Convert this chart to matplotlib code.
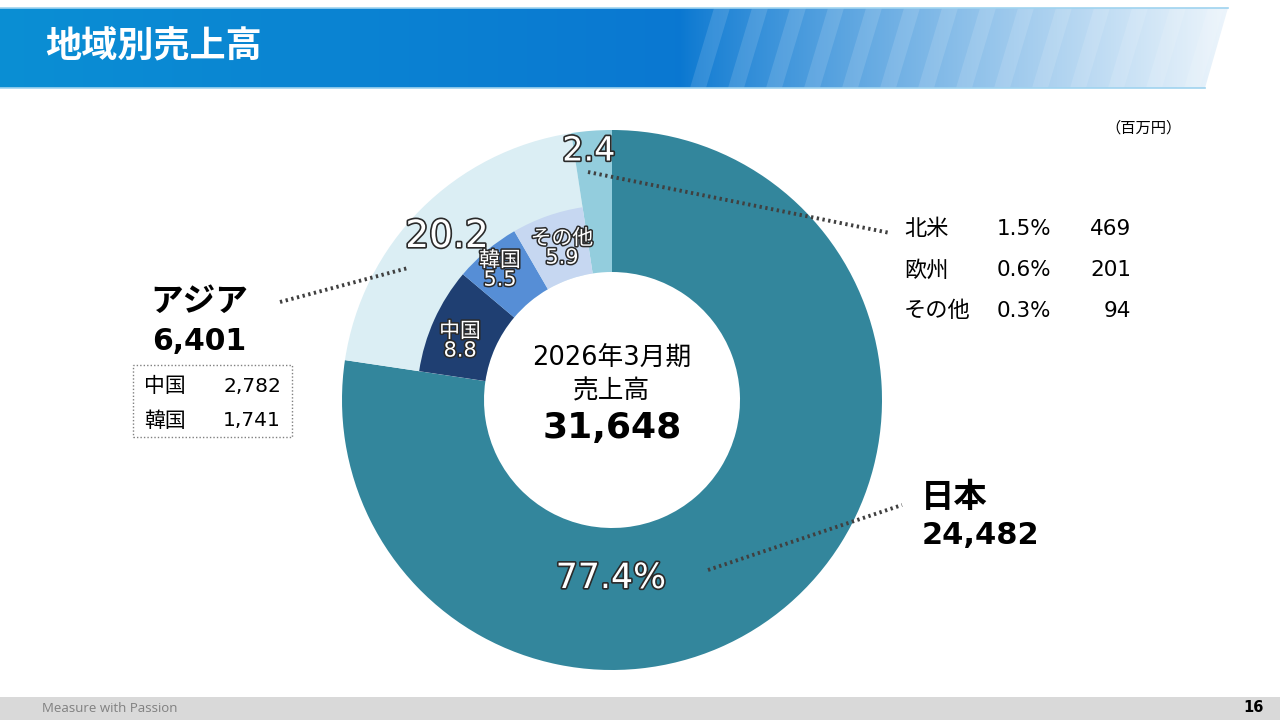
import numpy as np
import matplotlib.pyplot as plt
import matplotlib.patheffects as pe
from matplotlib.patches import Polygon, Rectangle

plt.rcParams['font.family'] = ['DejaVu Sans', 'Noto Sans CJK JP']

# data (百万円)
total = 31648
regions = ['日本', 'アジア', '北米・欧州・その他']
sales = [24482, 6401, 764]
shares = [77.4, 20.2, 2.4]
asia_names = ['中国', '韓国', 'その他']
asia_sales = [2782, 1741, 1878]
asia_shares = [8.8, 5.5, 5.9]
other_names = ['北米', '欧州', 'その他']
other_shares = [1.5, 0.6, 0.3]
other_sales = [469, 201, 94]

outer_colors = ['#33869c', '#dbeef4', '#93cddd']
asia_colors = ['#1f3f72', '#568ed6', '#c6d7f1']

W, H = 1280, 720
fig = plt.figure(figsize=(12.8, 7.2), dpi=100)
ax = fig.add_axes([0, 0, 1, 1])


def px(x, y):
    # pixel coords (top-left origin) -> axes data coords
    return x, H - y


# header band
grad = np.linspace(0, 1, 680)
r0 = np.array([0.04, 0.56, 0.83])
r1 = np.array([0.04, 0.47, 0.82])
left = r0[None, :] * (1 - grad[:, None]) + r1[None, :] * grad[:, None]
fade = np.linspace(0, 1, 600) ** 0.85
right = r1[None, :] * (1 - fade[:, None]) + np.array([1, 1, 1])[None, :] * fade[:, None]
band = np.vstack([left, right])[None, :, :]
ax.imshow(band, extent=(0, W, H - 88, H - 8), aspect='auto', zorder=0)
for i in range(14):
    x0 = 690 + i * 38
    ax.add_patch(Polygon([px(x0, 88), px(x0 + 16, 88), px(x0 + 40, 8), px(x0 + 24, 8)],
                         closed=True, facecolor='white', alpha=0.12, edgecolor='none', zorder=1))
ax.add_patch(Polygon([px(1205, 88), px(1290, 88), px(1290, 8), px(1228, 8)],
                     closed=True, facecolor='white', edgecolor='none', zorder=1))
ax.plot([0, 1228], [H - 8, H - 8], color='#9fd3ef', lw=1.2, zorder=2)
ax.plot([0, 1205], [H - 88, H - 88], color='#9fd3ef', lw=1.2, zorder=2)
ax.text(*px(45, 47), '地域別売上高', color='white', fontsize=26, fontweight='bold',
        family=['Noto Sans CJK JP'], va='center', ha='left', zorder=3)

# footer
ax.add_patch(Rectangle(px(0, 720), W, 23, facecolor='#d9d9d9', edgecolor='none', zorder=0))
ax.text(*px(42, 709), 'Measure with Passion', color='#808080', fontsize=9.5,
        family=['Open Sans'], va='center', ha='left')
ax.text(*px(1264, 708), '16', color='black', fontsize=10.5, fontweight='bold', va='center', ha='right')

# donut
cx, cy = px(612, 400)
ax.pie(sales, center=(cx, cy), radius=270, startangle=90, counterclock=False,
       colors=outer_colors, wedgeprops=dict(width=142, edgecolor='none'))
inner_vals = [sales[0]] + asia_sales + [sales[2]]
inner_cols = ['none'] + asia_colors + ['none']
ax.pie(inner_vals, center=(cx, cy), radius=195, startangle=90, counterclock=False,
       colors=inner_cols, wedgeprops=dict(width=67, edgecolor='none'))

ax.set_xlim(0, W)
ax.set_ylim(0, H)
ax.set_aspect('equal')
ax.axis('off')

outline = [pe.withStroke(linewidth=2.4, foreground='#2a2a2a')]
ax.text(*px(611, 578), f'{shares[0]}%', fontsize=25, color='white', ha='center', va='center',
        path_effects=outline)
ax.text(*px(447, 237), f'{shares[1]}', fontsize=27, color='white', ha='center', va='center',
        path_effects=outline)
ax.text(*px(589, 151), f'{shares[2]}', fontsize=24, color='white', ha='center', va='center',
        path_effects=outline)
asia_pos = [(460, 341), (500, 270), (562, 248)]
for name, s, (x, y) in zip(asia_names, asia_shares, asia_pos):
    ax.text(*px(x, y), f'{name}\n{s}', fontsize=15, color='white', ha='center', va='center',
            linespacing=0.95, path_effects=[pe.withStroke(linewidth=2.2, foreground='#2a2a2a')])

# center text
ax.text(*px(612, 358), '2026年3月期', fontsize=18.5, ha='center', va='center')
ax.text(*px(612, 391), '売上高', fontsize=18.5, ha='center', va='center')
ax.text(*px(612, 428), f'{total:,}', fontsize=26, fontweight='bold', ha='center', va='center')

# leader lines
dot = dict(color='#404040', lw=2.8, linestyle=(0, (0.6, 0.9)), solid_capstyle='butt')
ax.plot(*zip(px(588, 172), px(890, 233)), **dot)
ax.plot(*zip(px(280, 302), px(408, 268)), **dot)
ax.plot(*zip(px(708, 570), px(902, 505)), **dot)

# Asia label and breakdown
ax.text(*px(150, 301), regions[1], fontsize=23.5, fontweight='bold', ha='left', va='center')
ax.text(*px(152, 342), f'{sales[1]:,}', fontsize=21.5, fontweight='bold', ha='left', va='center')
ax.add_patch(Rectangle(px(133, 437), 159, 72, facecolor='none', edgecolor='#808080',
                       lw=1, linestyle=(0, (1, 1.5))))
for i, (name, v) in enumerate(zip(asia_names[:2], asia_sales[:2])):
    y = 386 + i * 35
    ax.text(*px(144, y), name, fontsize=15, ha='left', va='center')
    ax.text(*px(281, y), f'{v:,}', fontsize=14.5, ha='right', va='center')

# Japan label
ax.text(*px(921, 497), regions[0], fontsize=24, fontweight='bold', ha='left', va='center')
ax.text(*px(922, 536), f'{sales[0]:,}', fontsize=22, fontweight='bold', ha='left', va='center')

# other regions table
ax.text(*px(1182, 128), '（百万円）', fontsize=11, ha='right', va='center')
for i, (name, s, v) in enumerate(zip(other_names, other_shares, other_sales)):
    y = 229 + i * 41
    ax.text(*px(904, y), name, fontsize=16, ha='left', va='center')
    ax.text(*px(997, y), f'{s}%', fontsize=15.5, ha='left', va='center')
    ax.text(*px(1131, y), f'{v:,}', fontsize=15.5, ha='right', va='center')

fig.savefig('out.png', dpi=100)
